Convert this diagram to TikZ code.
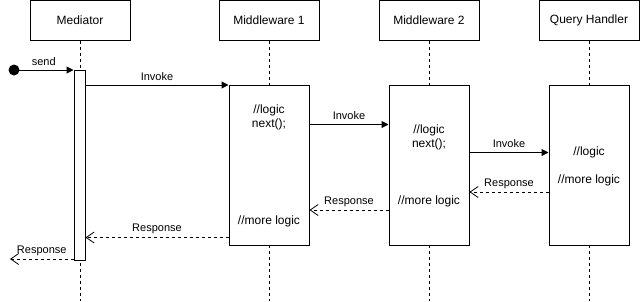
\documentclass[tikz,border=0pt]{standalone}
\usepackage{fontspec}
\setmainfont{Liberation Sans}
\usetikzlibrary{arrows.meta}
\begin{document}
\begin{tikzpicture}[x=1pt,y=-1pt,line width=1pt,
  head/.style={draw,fill=white,minimum width=100pt,minimum height=40pt,inner sep=0pt,font=\fontsize{12}{14}\selectfont},
  act/.style={draw,fill=white,inner sep=0pt},
  life/.style={dash pattern=on 3pt off 3pt,line width=0.8pt},
  call/.style={-{Triangle[length=7pt,width=7pt]}},
  reply/.style={dash pattern=on 3pt off 3pt,-{Straight Barb[length=8pt,width=11pt,line width=0.8pt]}},
  lbl/.style={font=\fontsize{11}{13}\selectfont,inner sep=1pt},
  body/.style={font=\fontsize{12}{14}\selectfont,align=center,inner sep=0pt}]
\useasboundingbox (0,0) rectangle (640,301);

% lifeline ends
\coordinate (l0) at (80,301);
\coordinate (l1) at (269,301);
\coordinate (l2) at (429,301);
\coordinate (l3) at (589,301);

% participant headers
\node[head] (mediator) at (80,20) {Mediator};
\node[head] (mw1) at (269,20) {Middleware 1};
\node[head] (mw2) at (429,20) {Middleware 2};
\node[head] (qh) at (589,20) {Query Handler};

\draw[life] (mediator.south) -- (l0);
\draw[life] (mw1.south) -- (l1);
\draw[life] (mw2.south) -- (l2);
\draw[life] (qh.south) -- (l3);

% activation bars
\node[act,minimum width=11pt,minimum height=190pt] (a0) at (79.5,165) {};
\node[act,minimum width=80pt,minimum height=160pt] (a1) at (269,165) {};
\node[act,minimum width=80pt,minimum height=160pt] (a2) at (429,165) {};
\node[act,minimum width=80pt,minimum height=160pt] (a3) at (589,165) {};

% activation contents
\node[body] (t1a) at (269,117) {//logic\\next();};
\node[body] (t1b) at (269,221) {//more logic};
\node[body] (t2a) at (429,137) {//logic\\next();};
\node[body] (t2b) at (429,201) {//more logic};
\node[body] (t3a) at (589,152) {//logic};
\node[body] (t3b) at (589,180) {//more logic};

% initial message
\fill (14,70) circle (5.5pt) coordinate (start);
\coordinate (endl) at (10,259);
\draw[call] (start) -- (a0.west |- start) node[lbl,midway,above=3pt] {send};

% invocations
\draw[call] (a0.east |- 0,85) -- (a1.west |- 0,85) node[lbl,midway,above=3pt] {Invoke};
\draw[call] (a1.east |- 0,124.5) -- (a2.west |- 0,124.5) node[lbl,midway,above=3pt] {Invoke};
\draw[call] (a2.east |- 0,152.5) -- (a3.west |- 0,152.5) node[lbl,midway,above=3pt] {Invoke};

% responses
\draw[reply] (a3.west |- 0,192) -- (a2.east |- 0,192) node[lbl,midway,above=2pt] {Response};
\draw[reply] (a2.west |- 0,210) -- (a1.east |- 0,210) node[lbl,midway,above=2pt] {Response};
\draw[reply] (a1.west |- 0,237.5) -- (a0.east |- 0,237.5) node[lbl,midway,above=2pt] {Response};
\draw[reply] (a0.west |- 0,259) -- (endl) node[lbl,midway,above=2pt] {Response};
\end{tikzpicture}
\end{document}
